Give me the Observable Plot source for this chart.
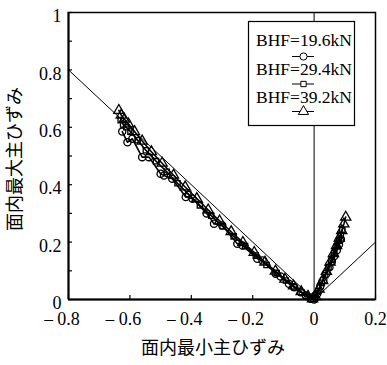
<!DOCTYPE html>
<html>
<head>
<meta charset="utf-8">
<script src="https://cdn.jsdelivr.net/npm/d3@7"></script>
<script src="https://cdn.jsdelivr.net/npm/@observablehq/plot@0.6"></script>
<style>
  html, body { margin: 0; padding: 0; background: white; }
</style>
</head>
<body>
<div id="chart"></div>
<script>
// ---- Data ----
// BHF = 19.6 kN (circles)
const s196x = [-0.625,-0.608,-0.592,-0.560,-0.538,-0.500,-0.489,-0.462,-0.418,-0.396,-0.350,-0.326,-0.299,-0.250,-0.233,-0.185,-0.168,-0.125,-0.109,-0.082,-0.065,-0.043,-0.027,-0.011,0.000,0.010,0.020,0.030,0.040,0.050,0.058,0.066,0.074,0.081,0.087];
const s196y = [0.585,0.548,0.560,0.496,0.496,0.438,0.432,0.421,0.357,0.351,0.300,0.264,0.258,0.194,0.188,0.142,0.136,0.090,0.080,0.055,0.043,0.025,0.014,0.003,0.000,0.020,0.045,0.068,0.090,0.112,0.132,0.152,0.172,0.192,0.210];
// BHF = 29.4 kN (squares)
const s294x = [-0.630,-0.622,-0.612,-0.598,-0.575,-0.548,-0.515,-0.480,-0.445,-0.410,-0.372,-0.335,-0.298,-0.262,-0.225,-0.190,-0.155,-0.122,-0.092,-0.065,-0.040,-0.018,-0.004,0.004,0.014,0.025,0.036,0.047,0.057,0.066,0.074,0.081,0.087,0.092];
const s294y = [0.625,0.610,0.600,0.585,0.555,0.520,0.482,0.445,0.405,0.368,0.328,0.292,0.255,0.220,0.186,0.153,0.120,0.092,0.066,0.043,0.024,0.009,0.002,0.008,0.030,0.058,0.085,0.112,0.138,0.162,0.185,0.205,0.225,0.242];
// BHF = 39.2 kN (triangles)
const s392x = [-0.636,-0.628,-0.618,-0.605,-0.585,-0.560,-0.530,-0.495,-0.458,-0.420,-0.382,-0.345,-0.308,-0.270,-0.232,-0.195,-0.160,-0.126,-0.095,-0.067,-0.042,-0.020,-0.005,0.005,0.016,0.028,0.040,0.052,0.063,0.073,0.082,0.090,0.097,0.103];
const s392y = [0.659,0.642,0.628,0.612,0.585,0.552,0.515,0.475,0.433,0.392,0.352,0.312,0.274,0.236,0.199,0.164,0.130,0.099,0.071,0.047,0.027,0.011,0.002,0.010,0.036,0.066,0.098,0.130,0.160,0.188,0.214,0.240,0.263,0.287];

// Reference line |minor| = major
const refX = [-0.8, 0, 0.2];
const refY = [0.8, 0, 0.2];

const seriesLabels = ["BHF=19.6kN", "BHF=29.4kN", "BHF=39.2kN"];
const seriesSymbols = ["circle", "square", "triangle"];

const xTickLabels = [-0.8, -0.6, -0.4, -0.2, 0, 0.2];
const yTickLabels = [0, 0.2, 0.4, 0.6, 0.8, 1];
const yTicks = [0, 0.1, 0.2, 0.3, 0.4, 0.5, 0.6, 0.7, 0.8, 0.9, 1];
const xTicks = [-0.8, -0.6, -0.4, -0.2, 0, 0.2];

const xTitle = "面内最小主ひずみ";
const yTitle = "面内最大主ひずみ";

// ---- Build ----
const toPts = (xs, ys) => xs.map((x, i) => ({x, y: ys[i]}));
const series = [toPts(s196x, s196y), toPts(s294x, s294y), toPts(s392x, s392y)];
const refPts = toPts(refX, refY);

const W = 387, H = 365;
const mL = 68, mR = 12, mT = 12, mB = 66;
const fw = W - mL - mR, fh = H - mT - mB;
const serif = "Liberation Serif, Times New Roman, serif";
const cjk = "Noto Sans CJK JP, sans-serif";

const marks = [];
marks.push(Plot.frame({stroke: "black", strokeWidth: 1.5}));
marks.push(Plot.line(refPts, {x: "x", y: "y", stroke: "black", strokeWidth: 1}));
marks.push(Plot.ruleX([0], {stroke: "black", strokeWidth: 1}));

const rs = [3.6, 3.0, 3.8];
series.forEach((pts, i) => {
  marks.push(Plot.line(pts, {x: "x", y: "y", stroke: "black", strokeWidth: 1.6}));
});
series.forEach((pts, i) => {
  marks.push(Plot.dot(pts, {x: "x", y: "y", symbol: seriesSymbols[i], r: rs[i], stroke: "black", fill: "none", strokeWidth: 1.3}));
});

// axes lines (thicker left/bottom)
marks.push(Plot.ruleX([-0.8], {stroke: "black", strokeWidth: 2}));
marks.push(Plot.ruleY([0], {stroke: "black", strokeWidth: 2}));
// inward ticks
marks.push(Plot.ruleY(yTicks, {stroke: "black", strokeWidth: 1.2, insetRight: fw - 4}));
marks.push(Plot.ruleX(xTicks, {stroke: "black", strokeWidth: 1.2, insetTop: fh - 4}));

// legend box
const lbL = 248, lbR = 354, lbT = 21, lbB = 125;
marks.push(Plot.frame({fill: "white", stroke: "black", strokeWidth: 1.2,
  insetLeft: lbL - mL, insetRight: W - mR - lbR, insetTop: lbT - mT, insetBottom: H - mB - lbB}));
seriesLabels.forEach((lab, i) => {
  marks.push(Plot.text([lab], {frameAnchor: "top-left", text: d => d, textAnchor: "middle", lineAnchor: "middle",
    dx: 303.5 - mL, dy: 40 - mT + i * 28.5, fontSize: 17.5, fontFamily: serif, fill: "black"}));
  const my = 56 - mT + i * 27.5;
  marks.push(Plot.ruleY([1], {dy: my, insetLeft: 292 - mL, insetRight: W - mR - 314, stroke: "black", strokeWidth: 1}));
  marks.push(Plot.dot([0], {frameAnchor: "top-left", dx: 303 - mL, dy: my, symbol: seriesSymbols[i], r: rs[i], stroke: "black", fill: "white", strokeWidth: 1}));
});

// axes labels
marks.push(Plot.axisY(yTickLabels, {tickSize: 0, tickPadding: 7, dy: 4, fontSize: 18, fontFamily: serif, label: null, tickFormat: d => String(d), fill: "black"}));
marks.push(Plot.axisX(xTickLabels, {tickSize: 0, tickPadding: 13, fontSize: 18, fontFamily: serif, label: null, tickFormat: d => String(Math.abs(d)), fill: "black"}));
marks.push(Plot.text(xTickLabels.filter(d => d < 0), {x: d => d, frameAnchor: "bottom", text: () => "−", textAnchor: "middle", lineAnchor: "middle",
  dx: -20, dy: 21, fontSize: 19, fontFamily: serif, fill: "black"}));

// titles
marks.push(Plot.text([xTitle], {frameAnchor: "bottom", text: d => d, textAnchor: "middle", lineAnchor: "middle",
  dx: 212.5 - (mL + fw / 2), dy: 348 - (H - mB), fontSize: 18, fontFamily: cjk, fill: "black"}));
marks.push(Plot.text([yTitle], {frameAnchor: "left", text: d => d, textAnchor: "middle", lineAnchor: "middle", rotate: -90,
  dx: 15 - mL, dy: 158.5 - (mT + fh / 2), fontSize: 18, fontFamily: cjk, fill: "black"}));

const chart = Plot.plot({
  width: W, height: H,
  marginLeft: mL, marginRight: mR, marginTop: mT, marginBottom: mB,
  x: {domain: [-0.8, 0.2]},
  y: {domain: [0, 1]},
  style: {background: "white", color: "black", overflow: "visible"},
  marks
});
document.getElementById("chart").appendChild(chart);
</script>
</body>
</html>
